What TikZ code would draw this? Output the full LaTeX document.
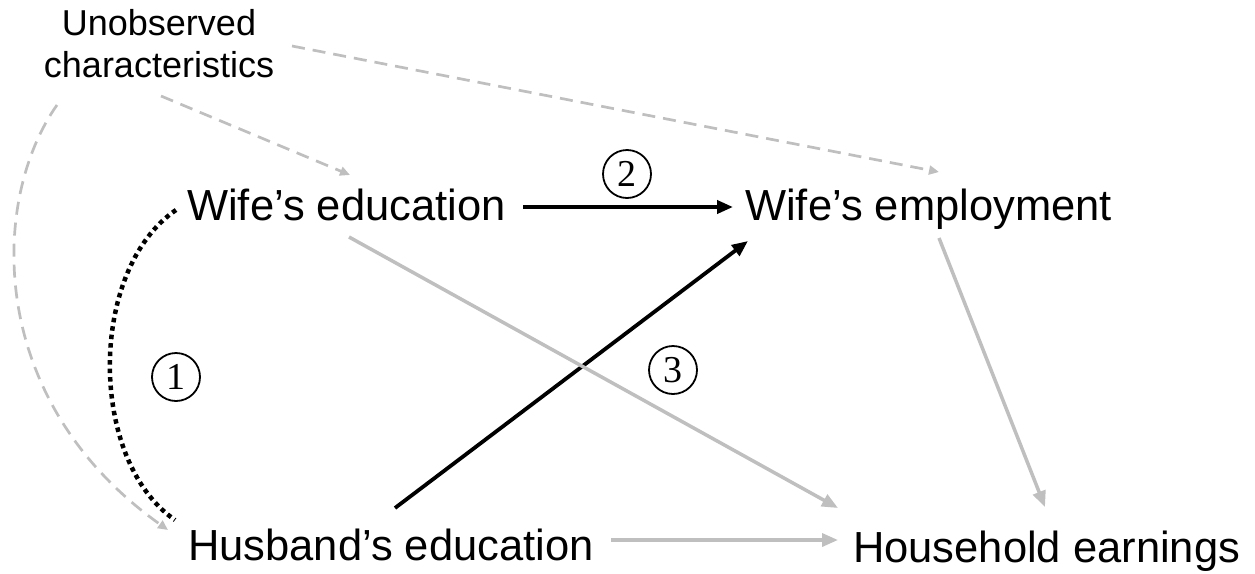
\documentclass[tikz,border=0pt]{standalone}
\usepackage{fontspec}
\setmainfont{Liberation Sans}
\newfontfamily\numfont{Liberation Serif}
\usetikzlibrary{arrows.meta,calc}
\definecolor{lgray}{HTML}{BFBFBF}
\tikzset{
  lbl/.style={inner sep=0pt, anchor=base west, font=\fontsize{43.5}{50}\selectfont},
  num/.style={draw, circle, line width=1.8pt, minimum size=48pt, inner sep=0pt, font=\numfont\fontsize{38}{38}\selectfont},
  blackarr/.style={line width=3.8pt, black, -{Triangle[length=16pt,width=13pt]}},
  grayarr/.style={line width=3.5pt, lgray, -{Triangle[length=16pt,width=13pt]}},
  dasharr/.style={line width=2.7pt, lgray, dash pattern=on 13pt off 8pt, -{Triangle[length=10pt,width=9pt]}},
  dotline/.style={line width=4.5pt, black, dash pattern=on 4.5pt off 4pt}
}
\begin{document}
\begin{tikzpicture}[x=1pt,y=-1pt]
\useasboundingbox (0,0) rectangle (1255,573);
\node[inner sep=0pt, anchor=south, align=center, font=\fontsize{36}{42}\selectfont] (un) at (159,78) {Unobserved\\characteristics};
\node[lbl] (we) at (187,220) {Wife’s education};
\node[lbl] (wem) at (745,220) {Wife’s employment};
\node[lbl] (he) at (188,560) {Husband’s education};
\node[lbl] (hh) at (853,562) {Household earnings};
\node[num] (c1) at (176,377) {1};
\node[num] (c2) at (627,174) {2};
\node[num] (c3) at (673,370) {3};
% connectors
\draw[blackarr] ($(we.base west)+(336,-13)$) -- ($(wem.base west)+(-12,-13)$);
\draw[blackarr] ($(he.base west)+(207,-52)$) -- ($(wem.base west)+(3,21)$);
\draw[grayarr] ($(we.base west)+(162,17)$) -- ($(hh.base west)+(-15,-54)$);
\draw[grayarr] ($(he.base west)+(423,-20)$) -- ($(hh.base west)+(-15,-22)$);
\draw[grayarr] ($(wem.base west)+(194,18)$) -- ($(hh.base west)+(192,-55)$);
\draw[dasharr] ($(un.south)+(2,18)$) -- ($(we.base west)+(163,-45)$);
\draw[dasharr] ($(un.south)+(133,-32)$) -- ($(wem.base west)+(194,-48)$);
\draw[dasharr] ($(un.south)+(-102,27)$) .. controls +(-67,95) and +(-183,-130) .. ($(he.base west)+(-20,-30)$);
\draw[dotline] ($(we.base west)+(-11,-10)$) .. controls +(-88,60) and +(-87,-60) .. ($(he.base west)+(-13,-40)$);
\end{tikzpicture}
\end{document}
